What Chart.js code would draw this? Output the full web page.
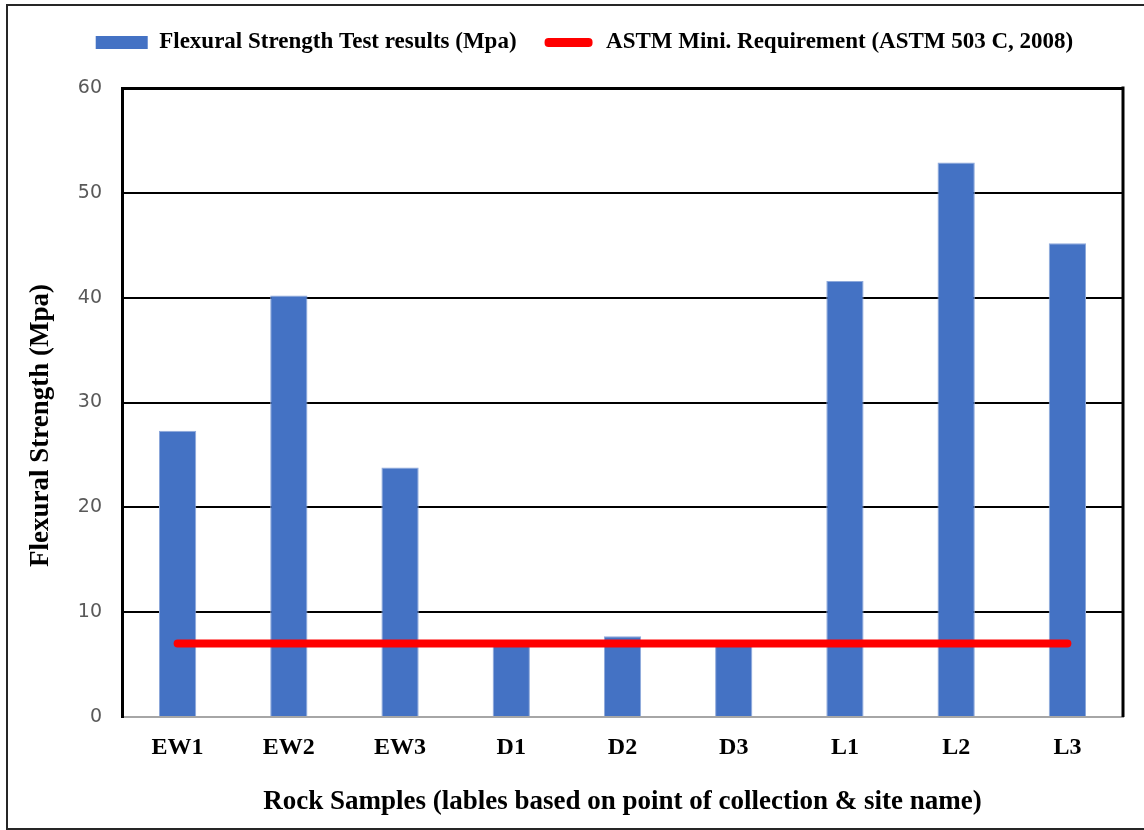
<!DOCTYPE html>
<html>
<head>
<meta charset="utf-8">
<script src="https://cdn.jsdelivr.net/npm/chart.js@4/dist/chart.umd.min.js"></script>
<style>
  html, body { margin: 0; padding: 0; background: #ffffff; }
  #wrap { width: 1144px; height: 830px; }
</style>
</head>
<body>
<div id="wrap"><canvas id="chart" width="1144" height="830"></canvas></div>
<script>
// Rock sample labels (point of collection & site name)
const samples = ['EW1', 'EW2', 'EW3', 'D1', 'D2', 'D3', 'L1', 'L2', 'L3'];
// Measured flexural strength, MPa
const flexuralStrength = [27.3, 40.2, 23.8, 6.9, 7.7, 7.3, 41.6, 52.9, 45.2];
// ASTM C503 (2008) minimum requirement, MPa
const astmMinimum = [7, 7, 7, 7, 7, 7, 7, 7, 7];
// Y axis tick values
const yTicks = [0, 10, 20, 30, 40, 50, 60];

const seriesNames = {
  bars: 'Flexural Strength Test results (Mpa)',
  line: 'ASTM Mini. Requirement (ASTM 503 C, 2008)'
};

const serif = "'Liberation Serif', 'Times New Roman', serif";

// Fixed legend band height and a small nudge for its items
const legendTweak = {
  id: 'legendTweak',
  beforeUpdate(chart) {
    const lg = chart.legend;
    if (lg && !lg._tweaked) {
      const fit = lg.fit;
      lg.fit = function () { fit.call(this); this.height = 88; };
      const draw = lg.draw;
      lg.draw = function (area) {
        const ctx = this.ctx;
        ctx.save();
        ctx.translate(18, 5);
        draw.call(this, area);
        ctx.restore();
      };
      lg._tweaked = true;
    }
  }
};

// Right edge of the plot frame and the outer picture border
const frame = {
  id: 'frame',
  afterDatasetsDraw(chart) {
    const { ctx, chartArea: a } = chart;
    ctx.save();
    ctx.strokeStyle = '#000000';
    ctx.lineWidth = 3;
    ctx.beginPath();
    ctx.moveTo(a.right, a.top - 1.5);
    ctx.lineTo(a.right, a.bottom);
    ctx.stroke();
    ctx.restore();
  },
  afterDraw(chart) {
    const ctx = chart.ctx;
    ctx.save();
    ctx.strokeStyle = '#262626';
    ctx.lineWidth = 2;
    ctx.strokeRect(7, 5, 1150, 824);
    ctx.restore();
  }
};

new Chart(document.getElementById('chart'), {
  data: {
    labels: samples,
    datasets: [
      {
        type: 'bar',
        label: seriesNames.bars,
        data: flexuralStrength,
        backgroundColor: '#4472C4',
        borderColor: '#8EA9DB',
        borderWidth: 1,
        barPercentage: 0.335,
        categoryPercentage: 1.0,
        order: 1
      },
      {
        type: 'line',
        label: seriesNames.line,
        data: astmMinimum,
        borderColor: '#FF0000',
        backgroundColor: '#FF0000',
        borderWidth: 8,
        borderCapStyle: 'round',
        pointRadius: 0,
        pointHoverRadius: 0,
        fill: false,
        order: 0
      }
    ]
  },
  options: {
    responsive: false,
    animation: false,
    devicePixelRatio: 1,
    layout: { padding: { left: 10, right: 21, top: 0, bottom: 0 } },
    plugins: {
      tooltip: { enabled: false },
      legend: {
        position: 'top',
        labels: {
          boxWidth: 52,
          boxHeight: 13,
          padding: 26,
          color: '#000000',
          font: { family: serif, size: 23, weight: 'bold' },
          generateLabels(chart) {
            const ds = chart.data.datasets;
            return [
              {
                text: ds[0].label, datasetIndex: 0,
                fillStyle: '#4472C4', strokeStyle: '#4472C4', lineWidth: 0,
                hidden: false
              },
              {
                text: ds[1].label, datasetIndex: 1,
                fillStyle: '#FF0000', strokeStyle: '#FFFFFF', lineWidth: 4,
                borderRadius: 6, hidden: false
              }
            ];
          }
        }
      }
    },
    scales: {
      x: {
        type: 'category',
        offset: true,
        grid: { display: false, drawTicks: false },
        border: { display: true, color: '#A6A6A6', width: 2 },
        ticks: {
          color: '#000000',
          padding: 16,
          font: { family: serif, size: 24, weight: 'bold' }
        },
        title: {
          display: true,
          text: 'Rock Samples (lables based on point of collection & site name)',
          color: '#000000',
          font: { family: serif, size: 27, weight: 'bold' },
          padding: { top: 12, bottom: 12 }
        },
        afterFit(scale) { scale.height = 113; }
      },
      y: {
        type: 'linear',
        min: 0,
        max: 60,
        afterBuildTicks(scale) { scale.ticks = yTicks.map(v => ({ value: v })); },
        afterDataLimits(scale) {
          // shift the axis title a little below the plot centre
          if (!scale._titleShifted) {
            const drawTitle = scale.drawTitle;
            scale.drawTitle = function () {
              const ctx = this.ctx;
              ctx.save();
              ctx.translate(0, 23);
              drawTitle.call(this);
              ctx.restore();
            };
            scale._titleShifted = true;
          }
        },
        grid: {
          drawTicks: false,
          color: ctx => (ctx.tick && ctx.tick.value === 0) ? 'rgba(0,0,0,0)' : '#000000',
          lineWidth: ctx => (ctx.tick && ctx.tick.value === 60) ? 3 : 2
        },
        border: { display: true, color: '#000000', width: 3 },
        ticks: {
          color: '#595959',
          padding: 20,
          font: { family: "'DejaVu Sans', sans-serif", size: 19 }
        },
        title: {
          display: true,
          text: 'Flexural Strength (Mpa)',
          color: '#000000',
          font: { family: serif, size: 27, weight: 'bold' },
          padding: { top: 15, bottom: 0 }
        },
        afterFit(scale) { scale.width = 112; }
      }
    }
  },
  plugins: [legendTweak, frame]
});
</script>
</body>
</html>
